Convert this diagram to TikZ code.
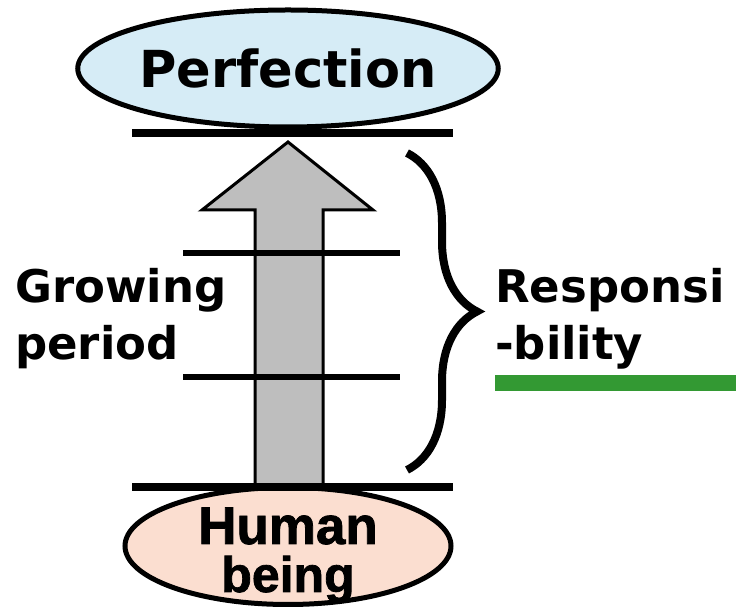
\documentclass[tikz,border=0pt]{standalone}
\usepackage{fontspec}
\setmainfont{DejaVu Sans}
\newfontfamily\narrowface{Liberation Sans}[BoldFeatures={FakeBold=1.5}]
\usepackage{tikz}
\usetikzlibrary{shapes.geometric,decorations.pathreplacing}

\definecolor{skyfill}{RGB}{214,236,246}
\definecolor{peachfill}{RGB}{251,222,208}
\definecolor{arrowgray}{RGB}{190,190,190}
\definecolor{bargreen}{RGB}{51,153,51}

\begin{document}
\begin{tikzpicture}[
  x=1pt, y=1pt,
  goal/.style={draw, ellipse, line width=5pt, fill=#1, inner sep=0pt, minimum width=326pt, minimum height=117pt},
  goal/.default={skyfill},
  goaltext/.style={inner sep=0pt, align=center, font=\fontsize{50}{48}\selectfont\narrowface\bfseries},
  level/.style={line width=8pt},
  rung/.style={line width=6.5pt},
  lbl/.style={font=\fontsize{45}{57}\selectfont\bfseries, align=left, inner sep=0pt},
  shaft/.style={draw, line width=3pt, fill=arrowgray, line join=miter},
  curly/.style={decorate, decoration={brace, amplitude=70pt}, line width=8pt}
]
\useasboundingbox (0,0) rectangle (741,607);

% ── Growth arrow ─────────────────────────────────────────────
\draw[shaft] (255,120) -- (255,397) -- (202,397) -- (288,465) -- (373,397) -- (323,397) -- (323,120) -- cycle;

% ── End states ───────────────────────────────────────────────
\node[goal, font=\fontsize{51}{51}\selectfont\bfseries] (perf) at (288,538.5) {Perfection};
\node[goal=peachfill] (human) at (288,61) {};

% ── Levels ───────────────────────────────────────────────────
\draw[level] (132,474) -- (453,474);
\draw[level] (132,120) -- (453,120);
\draw[rung] (183,354) -- (400,354);
\draw[rung] (183,230) -- (400,230);

\node[goaltext, anchor=base] (humantxt) at ([yshift=-46pt]human.center) {\fontsize{53}{48}\selectfont Human\\being};

% ── Side labels ──────────────────────────────────────────────
\node[lbl, anchor=base west] (grow) at (15,247) {Growing\\period};
\coordinate (bracetop) at (407,454);
\coordinate (bracebot) at (407,137);
\draw[curly] (bracetop) -- (bracebot);
\node[lbl, anchor=base west] (resp) at (495,247) {Responsi\\-bility};
\fill[bargreen] (495,216) rectangle (736,232);

\end{tikzpicture}
\end{document}
